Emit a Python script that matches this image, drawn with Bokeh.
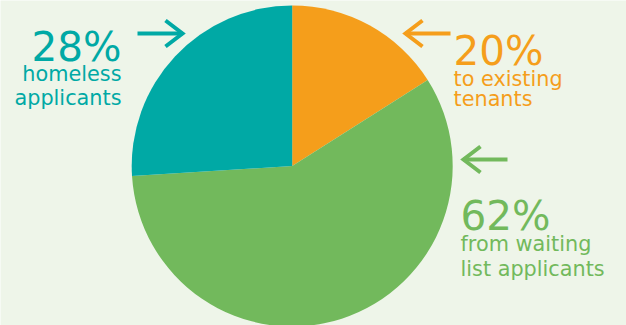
from bokeh.plotting import figure
from bokeh.models import Range1d, ColumnDataSource
from bokeh.core.properties import value
from bokeh.embed import file_html
from bokeh.resources import INLINE
import numpy as np

# Data
categories = ["to existing tenants", "from waiting list applicants", "homeless applicants"]
shares = [16, 58, 26]  # slice sizes as drawn in the picture (clockwise from top)
colors = ["#F59E1B", "#72B95C", "#00A9A5"]
pct_labels = ["20%", "62%", "28%"]
line1 = ["to existing", "from waiting", "homeless"]
line2 = ["tenants", "list applicants", "applicants"]

W, H = 626, 325
BG = "#EEF5E9"

p = figure(width=W, height=H, output_backend="svg", toolbar_location=None,
           x_range=Range1d(0, W), y_range=Range1d(H, 0),
           x_axis_location=None, y_axis_location=None,
           min_border=0, min_border_left=0, min_border_right=0,
           min_border_top=0, min_border_bottom=0,
           background_fill_color=BG, border_fill_color=BG)
p.outline_line_color = None
p.grid.visible = False

frac = np.array(shares, dtype=float) / sum(shares)
cum = np.concatenate([[0], np.cumsum(frac)])
start = np.pi / 2 - cum[:-1] * 2 * np.pi
end = np.pi / 2 - cum[1:] * 2 * np.pi
src = ColumnDataSource(dict(start=start, end=end, color=colors, cat=categories))
p.wedge(x=291.7, y=165.5, radius=160.5, start_angle="start", end_angle="end",
        direction="clock", fill_color="color", line_color=None, source=src)

FONT = value("DejaVu Sans")
big = "40.5px"
small = "20.8px"

lab = [
    dict(x=453, align="left", y=(50, 78, 98.5), arrow=(450, 405, 33, -1)),
    dict(x=460, align="left", y=(215, 243, 268), arrow=(507, 463, 159, -1)),
    dict(x=121, align="right", y=(46, 73.5, 97), arrow=(137, 182, 33, 1)),
]
for i, L in enumerate(lab):
    c = colors[i]
    p.text(x=[L["x"]], y=[L["y"][0]], text=[pct_labels[i]], text_font=FONT,
           text_font_size=big, text_color=c, text_align=L["align"], text_baseline="alphabetic")
    p.text(x=[L["x"]], y=[L["y"][1]], text=[line1[i]], text_font=FONT,
           text_font_size=small, text_color=c, text_align=L["align"], text_baseline="alphabetic")
    p.text(x=[L["x"]], y=[L["y"][2]], text=[line2[i]], text_font=FONT,
           text_font_size=small, text_color=c, text_align=L["align"], text_baseline="alphabetic")
    x0, x1, ya, d = L["arrow"]
    p.line(x=[x0, x1], y=[ya, ya], line_color=c, line_width=4)
    hx = x1 - d * 17
    p.line(x=[hx, x1, hx], y=[ya - 13, ya, ya + 13], line_color=c, line_width=4,
           line_join="miter")

open("out.html", "w").write(file_html(p, INLINE))
